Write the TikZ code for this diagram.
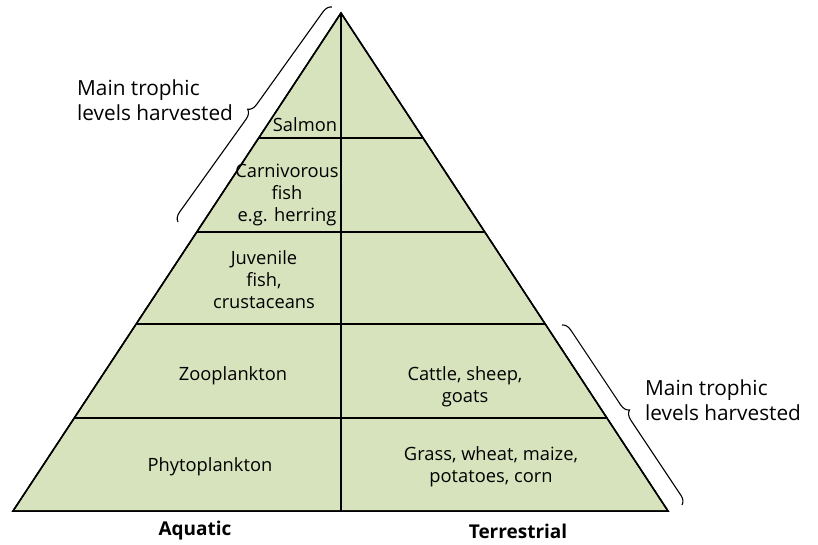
\documentclass[tikz,border=0pt]{standalone}
\usepackage{fontspec}
\setmainfont{Open Sans}
\usetikzlibrary{decorations.pathreplacing}

\definecolor{pyrgreen}{RGB}{215,227,189}

\begin{document}
\begin{tikzpicture}[x=1pt,y=-1pt,
  cell/.style={align=center, font=\fontsize{18.3}{22}\selectfont, inner sep=0pt},
  side/.style={align=left, font=\fontsize{20.8}{25}\selectfont, inner sep=0pt},
  base/.style={font=\fontsize{19}{22}\selectfont\bfseries, inner sep=0pt},
  harvest/.style={decorate, decoration={brace, amplitude=9pt}, line width=1.1pt}]
  \useasboundingbox (0,0) rectangle (818,544);
  % pyramid, its levels and the aquatic / terrestrial split
  \filldraw[pyrgreen, draw=black, line width=1.5pt] (341,13) -- (668,511) -- (13,511) -- cycle;
  \begin{scope}
    \clip (341,13) -- (668,511) -- (13,511) -- cycle;
    \foreach \y in {138,232,324,418}{
      \draw[line width=1.5pt] (0,\y) -- (818,\y);
    }
    \draw[line width=1.5pt] (341,13) -- (341,511);
  \end{scope}
  \draw[line width=1.5pt] (341,13) -- (668,511) -- (13,511) -- cycle;
  % level texts
  \node[cell] (salmon) at (305,125) {Salmon};
  \node[cell] (carnfish) at (287,195) {Carnivorous\\fish\\e.g. herring};
  \node[cell] (juvfish) at (264,280) {Juvenile\\fish,\\crustaceans};
  \node[cell] (zoo) at (233,376) {Zooplankton};
  \node[cell] (phyto) at (210,467) {Phytoplankton};
  \node[cell] (cattle) at (465,387) {Cattle, sheep,\\goats};
  \node[cell] (grass) at (491,467) {Grass, wheat, maize,\\potatoes, corn};
  \node[base] (aquatic) at (195,531) {Aquatic};
  \node[base] (terr) at (518,531) {Terrestrial};
  % harvested levels
  \node[side, anchor=west] (harvtop) at (77,100) {Main trophic\\levels harvested};
  \node[side, anchor=west] (harvbot) at (645,400) {Main trophic\\levels harvested};
  \coordinate (topa) at (178,222);
  \coordinate (topb) at (332,7);
  \coordinate (bota) at (562,325);
  \coordinate (botb) at (682,505);
  \draw[harvest] (topa) -- (topb);
  \draw[harvest] (bota) -- (botb);
\end{tikzpicture}
\end{document}
